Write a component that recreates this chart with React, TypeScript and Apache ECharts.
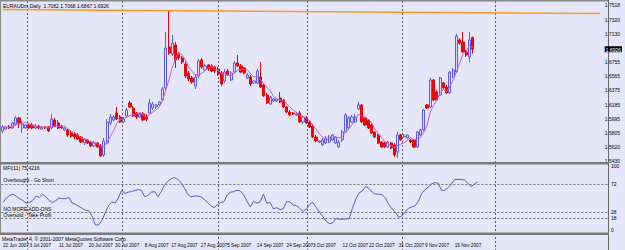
import { useEffect, useRef } from "react";
import * as echarts from "echarts";

// ---- data (EURAUD daily, 22 Jun 2007 – 22 Nov 2007) ----
const openP = [
  1.5831, 1.5858, 1.5885, 1.5872, 1.5925, 1.6006, 1.5872, 1.5872, 1.5912, 1.5912,
  1.5872, 1.5898, 1.5858, 1.5885, 1.5885, 1.5872, 1.5979, 1.5939, 1.5898, 1.5845,
  1.5845, 1.5805, 1.5791, 1.5778, 1.5751, 1.5671, 1.5711, 1.5684, 1.5631, 1.5671,
  1.5631, 1.5510, 1.5671, 1.5939, 1.5979, 1.6072, 1.6019, 1.5952, 1.6032, 1.6206,
  1.6139, 1.6072, 1.6019, 1.6059, 1.6032, 1.6072, 1.6139, 1.6153, 1.6180, 1.6247,
  1.6407, 1.6956, 1.6862, 1.6983, 1.6862, 1.6809, 1.6728, 1.6608, 1.6541, 1.6434,
  1.6568, 1.6782, 1.6648, 1.6715, 1.6702, 1.6688, 1.6661, 1.6608, 1.6501, 1.6635,
  1.6514, 1.6621, 1.6742, 1.6702, 1.6675, 1.6541, 1.6554, 1.6474, 1.6474, 1.6554,
  1.6447, 1.6313, 1.6193, 1.6233, 1.6233, 1.6273, 1.6247, 1.6153, 1.6086, 1.6072,
  1.6046, 1.6072, 1.5952, 1.6006, 1.5952, 1.5898, 1.5751, 1.5684, 1.5644, 1.5671,
  1.5684, 1.5711, 1.5671, 1.5617, 1.5711, 1.5818, 1.5872, 1.5952, 1.5952, 1.6126,
  1.6180, 1.6006, 1.5979, 1.5912, 1.5818, 1.5778, 1.5684, 1.5671, 1.5617, 1.5671,
  1.5644, 1.5550, 1.5778, 1.5751, 1.5738, 1.5711, 1.5711, 1.5617, 1.5778, 1.5845,
  1.6180, 1.6153, 1.6514, 1.6354, 1.6313, 1.6474, 1.6420, 1.6340, 1.6554, 1.6621,
  1.7050, 1.7023, 1.6889, 1.6822, 1.7082,
];
const closeP = [
  1.5885, 1.5885, 1.5872, 1.5939, 1.6006, 1.5939, 1.5925, 1.5912, 1.5872, 1.5872,
  1.5898, 1.5872, 1.5885, 1.5872, 1.5831, 1.5992, 1.5898, 1.5872, 1.5872, 1.5872,
  1.5778, 1.5765, 1.5751, 1.5724, 1.5684, 1.5724, 1.5671, 1.5631, 1.5671, 1.5617,
  1.5497, 1.5698, 1.5952, 1.6019, 1.6019, 1.5992, 1.5952, 1.5992, 1.6113, 1.6153,
  1.6032, 1.6019, 1.6059, 1.5979, 1.5992, 1.6206, 1.6193, 1.6180, 1.6220, 1.6394,
  1.6942, 1.6876, 1.7009, 1.6782, 1.6809, 1.6755, 1.6568, 1.6528, 1.6487, 1.6554,
  1.6768, 1.6688, 1.6702, 1.6661, 1.6635, 1.6635, 1.6594, 1.6461, 1.6621, 1.6581,
  1.6608, 1.6742, 1.6702, 1.6621, 1.6608, 1.6581, 1.6461, 1.6501, 1.6635, 1.6420,
  1.6300, 1.6206, 1.6287, 1.6260, 1.6260, 1.6220, 1.6153, 1.6086, 1.6046, 1.6059,
  1.6059, 1.5952, 1.6019, 1.5939, 1.5885, 1.5751, 1.5698, 1.5698, 1.5711, 1.5738,
  1.5751, 1.5778, 1.5751, 1.5684, 1.5818, 1.6046, 1.6006, 1.6019, 1.6019, 1.6180,
  1.5952, 1.5912, 1.5872, 1.5805, 1.5751, 1.5671, 1.5617, 1.5617, 1.5684, 1.5604,
  1.5510, 1.5778, 1.5711, 1.5765, 1.5778, 1.5684, 1.5617, 1.5818, 1.5845, 1.6113,
  1.6139, 1.6514, 1.6247, 1.6247, 1.6541, 1.6407, 1.6340, 1.6621, 1.6648, 1.7103,
  1.7009, 1.6889, 1.6849, 1.7050, 1.6926,
];
const highP = [
  1.5912, 1.5898, 1.5912, 1.5952, 1.6032, 1.6019, 1.5965, 1.5925, 1.5925, 1.5939,
  1.5925, 1.5912, 1.5898, 1.5898, 1.5898, 1.6059, 1.6006, 1.5979, 1.5912, 1.5885,
  1.5858, 1.5831, 1.5818, 1.5805, 1.5765, 1.5738, 1.5724, 1.5698, 1.5698, 1.5684,
  1.5657, 1.5738, 1.5992, 1.6059, 1.6046, 1.6153, 1.6046, 1.6019, 1.6139, 1.6233,
  1.6166, 1.6086, 1.6086, 1.6086, 1.6059, 1.6260, 1.6220, 1.6193, 1.6233, 1.6420,
  1.7157, 1.7451, 1.7117, 1.7023, 1.6889, 1.6835, 1.6755, 1.6635, 1.6568, 1.6594,
  1.6795, 1.6809, 1.6728, 1.6728, 1.6728, 1.6702, 1.6688, 1.6635, 1.6661, 1.6661,
  1.6635, 1.6768, 1.6849, 1.6728, 1.6688, 1.6608, 1.6581, 1.6514, 1.6661, 1.6755,
  1.6461, 1.6340, 1.6300, 1.6273, 1.6273, 1.6354, 1.6260, 1.6166, 1.6113, 1.6086,
  1.6086, 1.6099, 1.6032, 1.6032, 1.5979, 1.5925, 1.5778, 1.5711, 1.5738, 1.5765,
  1.5778, 1.5791, 1.5765, 1.5711, 1.5845, 1.6072, 1.6032, 1.6046, 1.6059, 1.6220,
  1.6193, 1.6019, 1.5992, 1.5925, 1.5831, 1.5791, 1.5698, 1.5684, 1.5698, 1.5684,
  1.5671, 1.5818, 1.5791, 1.5791, 1.5791, 1.5724, 1.5724, 1.5831, 1.5858, 1.6126,
  1.6193, 1.6541, 1.6528, 1.6380, 1.6554, 1.6487, 1.6447, 1.6635, 1.6675, 1.7130,
  1.7076, 1.7157, 1.6916, 1.7157, 1.7095,
];
const lowP = [
  1.5805, 1.5845, 1.5858, 1.5858, 1.5898, 1.5872, 1.5805, 1.5858, 1.5858, 1.5858,
  1.5858, 1.5858, 1.5845, 1.5858, 1.5818, 1.5858, 1.5885, 1.5858, 1.5858, 1.5831,
  1.5751, 1.5738, 1.5724, 1.5711, 1.5671, 1.5644, 1.5657, 1.5617, 1.5617, 1.5604,
  1.5483, 1.5483, 1.5657, 1.5912, 1.5965, 1.5979, 1.5939, 1.5939, 1.6019, 1.6139,
  1.6019, 1.5992, 1.6006, 1.5965, 1.5965, 1.6059, 1.6113, 1.6126, 1.6166, 1.6233,
  1.6380, 1.6849, 1.6835, 1.6675, 1.6782, 1.6728, 1.6541, 1.6501, 1.6461, 1.6394,
  1.6541, 1.6661, 1.6635, 1.6635, 1.6621, 1.6608, 1.6568, 1.6434, 1.6474, 1.6568,
  1.6501, 1.6608, 1.6688, 1.6608, 1.6594, 1.6528, 1.6434, 1.6461, 1.6461, 1.6407,
  1.6287, 1.6193, 1.6180, 1.6220, 1.6220, 1.6206, 1.6139, 1.6072, 1.6032, 1.6046,
  1.6032, 1.5939, 1.5925, 1.5925, 1.5872, 1.5738, 1.5684, 1.5671, 1.5631, 1.5657,
  1.5671, 1.5698, 1.5657, 1.5604, 1.5684, 1.5805, 1.5845, 1.5939, 1.5939, 1.6113,
  1.5939, 1.5898, 1.5858, 1.5791, 1.5738, 1.5657, 1.5604, 1.5604, 1.5604, 1.5591,
  1.5483, 1.5470, 1.5698, 1.5738, 1.5724, 1.5671, 1.5604, 1.5604, 1.5765, 1.5831,
  1.6126, 1.6139, 1.6233, 1.6233, 1.6300, 1.6394, 1.6327, 1.6327, 1.6541, 1.6608,
  1.6983, 1.6876, 1.6822, 1.6755, 1.6867,
];
const mfiValues = [
  43, 50, 54, 56, 53, 49, 46, 42, 43, 46,
  53, 51, 56, 52, 46, 43, 46, 50, 49, 49,
  51, 42, 40, 37, 34, 31, 30, 22, 8, 8,
  15, 27, 38, 44, 42, 50, 62, 57, 59, 60,
  62, 63, 62, 52, 54, 59, 60, 52, 60, 70,
  76, 80, 82, 79, 74, 66, 56, 52, 53, 53,
  52, 48, 43, 38, 35, 39, 43, 44, 55, 59,
  60, 62, 61, 55, 45, 36, 45, 42, 44, 56,
  42, 43, 33, 35, 32, 33, 44, 44, 39, 38,
  34, 29, 33, 40, 43, 35, 28, 21, 14, 10,
  11, 18, 17, 17, 17, 18, 34, 48, 58, 61,
  68, 65, 59, 56, 56, 55, 50, 40, 33, 28,
  20, 22, 28, 34, 36, 38, 45, 57, 63, 67,
  72, 74, 73, 62, 62, 66, 72, 79, 79, 79,
  78, 73, 68, 72, 75.4216,
];
const trendLine = [1.7458, 1.7404];
const priceTicks = [1.7518, 1.732, 1.713, 1.6926, 1.6755, 1.6565, 1.6375, 1.6185, 1.5995, 1.5805, 1.562, 1.543];
const currentPrice = 1.6926;
const mfiTicks = [100, 72, 28, 18, 0];
const mfiLevels = [72, 28, 18];
const mfiLevelNames = ["Overbought - Go Short", "NO MORE ADD-ONS", "Oversold - Take Profit"];
const tickAt = [0, 8, 17, 26, 34, 43, 51, 60, 68, 77, 86, 94, 103, 111, 120, 128, 137];
const tickLabels = [
  "22 Jun 2007", "3 Jul 2007", "11 Jul 2007", "20 Jul 2007", "30 Jul 2007", "8 Aug 2007",
  "17 Aug 2007", "27 Aug 2007", "5 Sep 2007", "14 Sep 2007", "24 Sep 2007", "3 Oct 2007",
  "12 Oct 2007", "22 Oct 2007", "31 Oct 2007", "9 Nov 2007", "19 Nov 2007",
];
const slotCount = 184; // bars plus the empty right-hand shift area
const maPeriod = 5;
const titleText = "EURAUDm,Daily  1.7082 1.7068 1.6867 1.6926";
const mfiTitle = "MFI(11) 75.4216";
const footerText = "MetaTrader 4, © 2001-2007 MetaQuotes Software Corp.";

const FONT = "Liberation Sans, Arial, sans-serif";

export default function App() {
  const ref = useRef<HTMLDivElement>(null);

  useEffect(() => {
    if (!ref.current) return;
    const chart = echarts.init(ref.current, undefined, { renderer: "svg" });
    const cats = Array.from({ length: slotCount }, (_, i) => String(i));
    const candles = openP.map((o, i) => [o, closeP[i], lowP[i], highP[i]]);
    const ma = closeP.map((_, i) => {
      const s = Math.max(0, i - maPeriod + 1);
      const w = closeP.slice(s, i + 1);
      return +(w.reduce((a, b) => a + b, 0) / w.length).toFixed(5);
    });

    const vLines = [27, 122, 218, 307, 402, 495].map((x) => ({
      type: "line",
      silent: true,
      shape: { x1: x + 0.5, y1: 1, x2: x + 0.5, y2: 250 },
      style: { stroke: "#5a5a5a", lineWidth: 1, lineDash: [2, 2] },
    }));

    const option: any = {
      animation: false,
      backgroundColor: "#E6E6FA",
      grid: [
        { left: 1, top: 2, width: 607, height: 161 },
        { left: 1, top: 166, width: 607, height: 64 },
      ],
      xAxis: [
        {
          type: "category", gridIndex: 0, data: cats, boundaryGap: true,
          axisLine: { show: false }, axisTick: { show: false }, axisLabel: { show: false }, splitLine: { show: false },
        },
        {
          type: "category", gridIndex: 1, data: cats, boundaryGap: true,
          axisLine: { show: false }, axisTick: { show: false }, splitLine: { show: false },
          axisLabel: {
            show: true,
            showMinLabel: true,
            showMaxLabel: true,
            interval: (i: number) => tickAt.includes(i),
            formatter: (_v: string, i: number) => tickLabels[tickAt.indexOf(i)] ?? "",
            align: "left", margin: 13, fontSize: 4.7, color: "#000", fontFamily: FONT,
          },
        },
      ],
      yAxis: [
        {
          type: "value", gridIndex: 0, position: "right", min: 1.5403, max: 1.7558,
          axisLine: { show: false }, axisTick: { show: false }, splitLine: { show: false },
          axisLabel: {
            customValues: priceTicks,
            margin: 3, fontSize: 5, color: "#000", fontFamily: FONT,
            formatter: (v: number) => (Math.abs(v - currentPrice) < 1e-6 ? `{cur|${v.toFixed(4)}}` : v.toFixed(4)),
            rich: { cur: { backgroundColor: "#000", color: "#fff", fontSize: 5, fontFamily: FONT, padding: [1, 1, 0, 1] } },
          },
        },
        {
          type: "value", gridIndex: 1, position: "right", min: 0, max: 100,
          axisLine: { show: false }, axisTick: { show: false }, splitLine: { show: false },
          axisLabel: { customValues: mfiTicks, margin: 3, fontSize: 5, color: "#000", fontFamily: FONT },
        },
      ],
      series: [
        {
          type: "candlestick", xAxisIndex: 0, yAxisIndex: 0, data: candles, barWidth: 2.6,
          itemStyle: { color: "#DADAFC", color0: "#FF0000", borderColor: "#5C5CF0", borderColor0: "#F00000", borderWidth: 1 },
          markLine: {
            silent: true, symbol: ["none", "none"], label: { show: false },
            lineStyle: { color: "#FF9A1A", width: 1.5, type: "solid" },
            data: [[{ coord: [0, trendLine[0]] }, { coord: [slotCount - 1, trendLine[1]] }]],
          },
        },
        {
          type: "line", xAxisIndex: 0, yAxisIndex: 0, data: ma, symbol: "none",
          lineStyle: { color: "#C25ED8", width: 1 }, z: 3,
        },
        {
          type: "line", xAxisIndex: 1, yAxisIndex: 1, data: mfiValues, symbol: "none",
          lineStyle: { color: "#5858CC", width: 1 },
          markLine: {
            silent: true, symbol: ["none", "none"],
            lineStyle: { color: "#6a6a6a", width: 1, type: [2, 2] },
            label: { show: true, position: "insideStartTop", distance: [2, 1], fontSize: 5, color: "#000", fontFamily: FONT },
            data: mfiLevels.map((v, k) => ({ yAxis: v, label: { formatter: mfiLevelNames[k] } })),
          },
        },
      ],
      graphic: [
        ...vLines,
        { type: "rect", silent: true, shape: { x: 0, y: 0, width: 609, height: 1.5 }, style: { fill: "#8a8a8a" } },
        { type: "rect", silent: true, shape: { x: 0, y: 162, width: 609, height: 2.5 }, style: { fill: "#7a7a7a" }, z: 10 },
        { type: "rect", silent: true, shape: { x: 0, y: 232.5, width: 609, height: 2.5 }, style: { fill: "#7a7a7a" }, z: 10 },
        { type: "line", silent: true, shape: { x1: 608.5, y1: 0, x2: 608.5, y2: 250 }, style: { stroke: "#666", lineWidth: 1 } },
        { type: "line", silent: true, shape: { x1: 0.5, y1: 0, x2: 0.5, y2: 233 }, style: { stroke: "#8a8a8a", lineWidth: 1 } },
        { type: "text", silent: true, x: 3, y: 6, style: { text: titleText, fontSize: 5, fill: "#000", fontFamily: FONT, verticalAlign: "middle" }, z: 11 },
        { type: "text", silent: true, x: 3, y: 167.5, style: { text: mfiTitle, fontSize: 5, fill: "#000", fontFamily: FONT, verticalAlign: "middle" }, z: 11 },
        { type: "text", silent: true, x: 2, y: 239, style: { text: footerText, fontSize: 5, fill: "#000", fontFamily: FONT, verticalAlign: "middle" }, z: 11 },
      ],
    };
    chart.setOption(option);
    return () => chart.dispose();
  }, []);

  return (
    <div
      ref={ref}
      style={{ position: "fixed", left: 0, top: 0, width: 625, height: 250, background: "#E6E6FA" }}
    />
  );
}
